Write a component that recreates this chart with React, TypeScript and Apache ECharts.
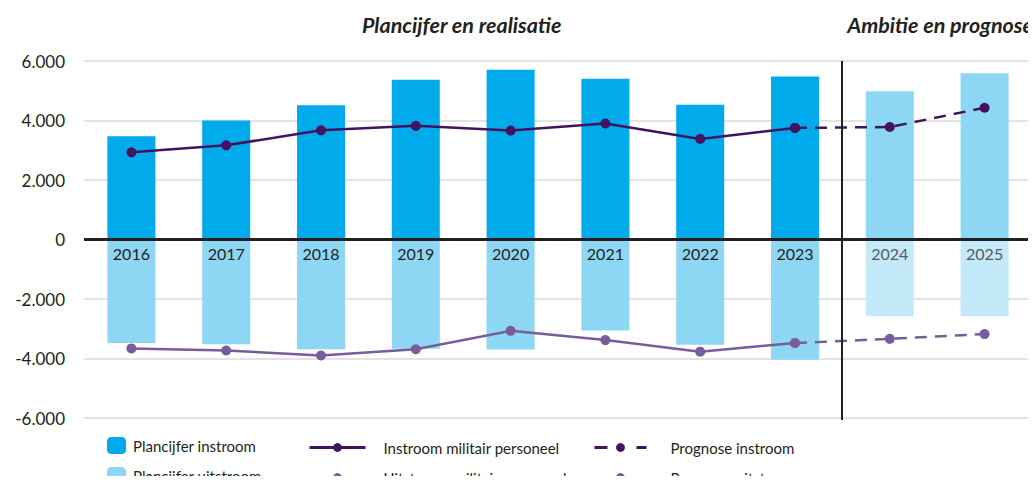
import React, { useEffect, useRef } from "react";
import * as echarts from "echarts";

const years = ["2016", "2017", "2018", "2019", "2020", "2021", "2022", "2023", "2024", "2025"];
const plancijferInstroom = [3470, 4000, 4510, 5370, 5710, 5400, 4530, 5480, 4980, 5590];
const plancijferUitstroom = [-3480, -3520, -3690, -3670, -3700, -3060, -3540, -4040, -2580, -2580];
const instroomRealisatie = [2930, 3165, 3670, 3820, 3660, 3900, 3380, 3750, null, null];
const uitstroomRealisatie = [-3660, -3730, -3900, -3690, -3070, -3380, -3770, -3480, null, null];
const prognoseInstroom = [null, null, null, null, null, null, null, 3750, 3780, 4430];
const prognoseUitstroom = [null, null, null, null, null, null, null, -3480, -3340, -3180];
const forecastYears = ["2024", "2025"];
const yMin = -6000;
const yMax = 6000;
const yStep = 2000;

const FONT = "Lato, 'Open Sans', sans-serif";
const DARK_BLUE = "#00aaeb";
const LIGHT_BLUE = "#8dd7f5";
const LIGHTEST_BLUE = "#c4e9f9";
const DARK_PURPLE = "#42145f";
const LIGHT_PURPLE = "#785d9a";

const GRID_TOP = 61;
const GRID_BOTTOM = 66;
const CHART_H = 484;

const legendItem = (
  name: string,
  left: number,
  top: number,
  w: number,
  h: number,
  gap: number,
  extra: any = {}
) => ({
  left,
  top,
  padding: 0,
  itemWidth: w,
  itemHeight: h,
  selectedMode: false,
  textStyle: { fontSize: 15, color: "#231f20", fontFamily: FONT, padding: [0, 0, 0, gap] },
  data: [{ name, ...extra }],
});

export default function App() {
  const ref = useRef<HTMLDivElement>(null);

  useEffect(() => {
    if (!ref.current) return;
    const chart = echarts.init(ref.current, undefined, { renderer: "svg" });

    const isForecast = (i: number) => forecastYears.includes(years[i]);
    const gridHeight = CHART_H - GRID_TOP - GRID_BOTTOM;
    // place the category axis at the value 0 of the value axis
    const zeroOffset = (-gridHeight * (0 - yMin)) / (yMax - yMin);

    const option: any = {
      animation: false,
      textStyle: { fontFamily: FONT },
      grid: { left: 84, right: 4, top: GRID_TOP, bottom: GRID_BOTTOM, containLabel: false },
      graphic: [
        {
          type: "text",
          left: 362,
          top: 14,
          style: {
            text: "Plancijfer en realisatie",
            font: `italic bold 21.5px ${FONT}`,
            fill: "#231f20",
          },
        },
        {
          type: "text",
          right: 3,
          top: 14,
          style: {
            text: "Ambitie en prognose",
            font: `italic bold 21.5px ${FONT}`,
            fill: "#231f20",
          },
        },
      ],
      legend: [
        legendItem("Plancijfer instroom", 107, 437, 19, 17, 2),
        legendItem("Plancijfer uitstroom", 107, 467, 19, 17, 2),
        legendItem("Instroom militair personeel", 308, 440, 56, 11, 13, { lineStyle: { width: 3 } }),
        legendItem("Uitstroom militair personeel", 308, 470, 56, 11, 13, { lineStyle: { width: 3 } }),
        legendItem("Prognose instroom", 593, 440, 52, 11, 19, {
          lineStyle: { width: 3, type: [13, 29] },
        }),
        legendItem("Prognose uitstroom", 593, 470, 52, 11, 19, {
          lineStyle: { width: 3, type: [13, 29] },
        }),
      ],
      xAxis: {
        type: "category",
        data: years,
        z: 10,
        offset: zeroOffset,
        axisLine: { show: false, onZero: false },
        axisTick: { show: false },
        axisLabel: {
          margin: 6,
          fontSize: 16,
          fontFamily: FONT,
          color: (_v: string, i: number) => (isForecast(i) ? "#5a5a5a" : "#231f20"),
        },
      },
      yAxis: {
        type: "value",
        min: yMin,
        max: yMax,
        interval: yStep,
        axisLine: { show: false },
        axisTick: { show: false },
        splitLine: { lineStyle: { color: "#dadada", width: 1.5 } },
        axisLabel: {
          margin: 19,
          fontSize: 17,
          fontFamily: FONT,
          color: "#231f20",
          formatter: (v: number) =>
            (v < 0 ? "-" : "") + Math.abs(v).toString().replace(/\B(?=(\d{3})+(?!\d))/g, "."),
        },
      },
      series: [
        {
          name: "zero",
          type: "line",
          data: [],
          z: 1,
          silent: true,
          markLine: {
            silent: true,
            symbol: "none",
            label: { show: false },
            lineStyle: { color: "#231f20", width: 3, type: "solid" },
            data: [{ yAxis: 0 }],
          },
        },
        {
          name: "Plancijfer instroom",
          type: "bar",
          stack: "plan",
          barWidth: 48,
          itemStyle: { color: DARK_BLUE },
          data: plancijferInstroom.map((v, i) =>
            isForecast(i) ? { value: v, itemStyle: { color: LIGHT_BLUE } } : v
          ),
          z: 2,
        },
        {
          name: "Plancijfer uitstroom",
          type: "bar",
          stack: "plan",
          barWidth: 48,
          itemStyle: { color: LIGHT_BLUE },
          data: plancijferUitstroom.map((v, i) =>
            isForecast(i) ? { value: v, itemStyle: { color: LIGHTEST_BLUE } } : v
          ),
          z: 2,
        },
        {
          name: "Instroom militair personeel",
          type: "line",
          data: instroomRealisatie,
          symbol: "circle",
          symbolSize: 10,
          lineStyle: { color: DARK_PURPLE, width: 2.5 },
          itemStyle: { color: DARK_PURPLE },
          z: 4,
        },
        {
          name: "Uitstroom militair personeel",
          type: "line",
          data: uitstroomRealisatie,
          symbol: "circle",
          symbolSize: 10,
          lineStyle: { color: LIGHT_PURPLE, width: 2.5 },
          itemStyle: { color: LIGHT_PURPLE },
          z: 4,
        },
        {
          name: "Prognose instroom",
          type: "line",
          data: prognoseInstroom,
          symbol: "circle",
          symbolSize: 10,
          lineStyle: { color: DARK_PURPLE, width: 2.5, type: [12, 8] },
          itemStyle: { color: DARK_PURPLE },
          z: 4,
        },
        {
          name: "Prognose uitstroom",
          type: "line",
          data: prognoseUitstroom,
          symbol: "circle",
          symbolSize: 10,
          lineStyle: { color: LIGHT_PURPLE, width: 2.5, type: [12, 8] },
          itemStyle: { color: LIGHT_PURPLE },
          z: 4,
        },
        {
          name: "divider",
          type: "custom",
          z: 5,
          silent: true,
          data: [[0]],
          renderItem: (params: any, api: any) => {
            const a = api.coord([years.length - forecastYears.length - 1, 0]);
            const b = api.coord([years.length - forecastYears.length, 0]);
            const x = Math.round((a[0] + b[0]) / 2);
            const cs = params.coordSys;
            return {
              type: "line",
              shape: { x1: x, y1: cs.y, x2: x, y2: cs.y + cs.height + 2 },
              style: { stroke: "#231f20", lineWidth: 2 },
            };
          },
        },
      ],
    };

    chart.setOption(option);
    return () => chart.dispose();
  }, []);

  return <div ref={ref} style={{ width: 1036, height: 484, margin: -8 }} />;
}
